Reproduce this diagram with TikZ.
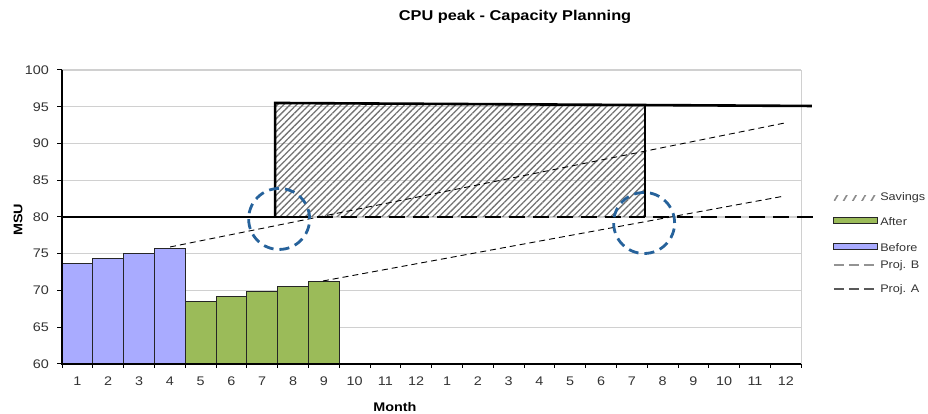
\documentclass[tikz,border=0pt]{standalone}
\usepackage{fontspec}
\setmainfont{Liberation Sans}[FakeStretch=1.15]
\usetikzlibrary{patterns.meta}
\definecolor{beforeblue}{RGB}{169,171,255}
\definecolor{aftergreen}{RGB}{155,187,89}
\definecolor{circleblue}{RGB}{38,98,155}
\definecolor{gridgray}{RGB}{208,208,208}

\begin{document}
\begin{tikzpicture}[
    x=30.8pt, y=7.35pt,
    font=\fontsize{12.5}{14}\selectfont,
    tick/.style={inner sep=0pt, text=black!80},
    axislabel/.style={font=\fontsize{12.5}{14}\selectfont\bfseries},
    bar/.style={draw=black!85, line width=0.9pt},
    capline/.style={line width=2.6pt, draw=black},
    proj/.style={line width=0.9pt, dash pattern=on 6pt off 4pt},
    legproj/.style={line width=1.8pt, dash pattern=on 10pt off 5pt},
    marker/.style={draw=circleblue, line width=2.8pt, dash pattern=on 10pt off 6pt},
    hatch/.style={pattern={Lines[angle=45, distance=4.5pt, line width=1.3pt]}, pattern color=black!55},
    legtext/.style={anchor=west, inner sep=0pt, font=\fontsize{11}{13}\selectfont, text=black!80}
  ]
  \useasboundingbox (-2.013,53.197) rectangle (28.117,109.52);

  \foreach \v in {65,70,...,100}
    \draw[gridgray, line width=1.2pt] (0,\v) -- (24,\v);
  \draw[gridgray, line width=1.2pt] (24,60) -- (24,100);

  \foreach \m/\v in {1/73.7, 2/74.4, 3/75.1, 4/75.7}
    \draw[bar, fill=beforeblue] (\m-1,60) rectangle (\m,\v);
  \foreach \m/\v in {5/68.5, 6/69.2, 7/69.9, 8/70.5, 9/71.2}
    \draw[bar, fill=aftergreen] (\m-1,60) rectangle (\m,\v);

  \fill[hatch] (6.92,80) -- (6.92,95.51) -- (18.93,95.23) -- (18.93,80) -- cycle;

  \draw[proj] (3.51,75.92) -- (23.47,92.79);
  \draw[proj] (8.47,71.29) -- (23.47,82.86);

  \draw[capline] (0,80) -- (8.05,80);
  \draw[capline] (6.92,80) -- (6.92,95.51) -- (24.35,95.10);
  \draw[capline] (18.93,95.23) -- (18.93,80);
  \draw[capline, dash pattern=on 16pt off 8pt] (8.28,80) -- (24.45,80);

  \draw[black, line width=1.3pt] (0,100) -- (0,60) -- (24,60);
  \foreach \v in {60,65,...,100}
    \draw[black, line width=1pt] (0,\v) -- ++(-5pt,0);
  \foreach \i in {0,...,24}
    \draw[black, line width=1pt] (\i,60) -- ++(0,-4pt);

  \foreach \v in {60,65,...,100}
    \node[tick, anchor=east] (y\v) at (-0.42,\v) {\v};
  \foreach \m [evaluate=\m as \lbl using {int(mod(\m-1,12)+1)}] in {1,...,24}
    \node[tick] (m\m) at (\m-0.5,57.69) {\lbl};

  \coordinate (gapA) at (7.05,79.73);
  \coordinate (gapB) at (18.90,79.18);
  \draw[marker] (gapA) circle[radius=30.5pt];
  \draw[marker] (gapB) circle[radius=30.5pt];

  \node[font=\fontsize{14.2}{16}\selectfont\bfseries] (title) at (14.71,107.21) {CPU peak - Capacity Planning};
  \node[axislabel, rotate=90] (msu) at (-1.429,79.59) {MSU};
  \node[axislabel] (month) at (10.81,54.15) {Month};

  \fill[pattern={Lines[angle=60, distance=8pt, line width=1.6pt]}, pattern color=black!45] (25.06,82.22) rectangle (26.49,82.96);
  \draw[bar, fill=aftergreen] (25.06,79.05) rectangle (26.49,79.87);
  \draw[bar, fill=beforeblue] (25.06,75.64) rectangle (26.49,76.46);
  \draw[legproj, gray!85] (25.06,73.47) -- (26.49,73.47);
  \draw[legproj, black!65] (25.06,70.20) -- (26.49,70.20);
  \node[legtext] (legsav) at (26.56,82.59) {Savings};
  \node[legtext] (legaft) at (26.56,79.32) {After};
  \node[legtext] (legbef) at (26.56,75.90) {Before};
  \node[legtext] (legprb) at (26.56,73.40) {Proj. B};
  \node[legtext] (legpra) at (26.56,70.10) {Proj. A};
\end{tikzpicture}
\end{document}
